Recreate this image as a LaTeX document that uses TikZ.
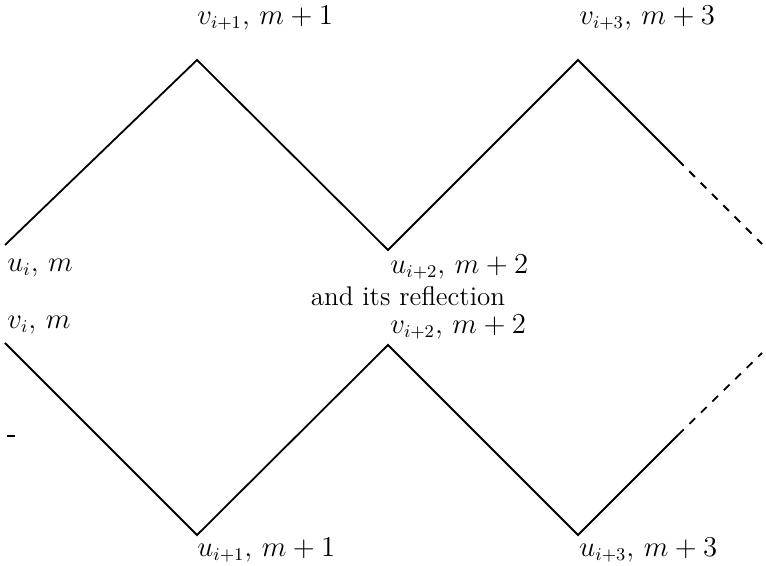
\documentclass[tikz,border=0pt]{standalone}
\begin{document}
\begin{tikzpicture}[x=0.5pt,y=-0.5pt,
  zig/.style={line width=0.9pt, line join=miter},
  dsh/.style={line width=0.9pt, dash pattern=on 4pt off 4pt},
  lbl/.style={anchor=west, inner sep=0pt, font=\fontsize{13.3}{16}\selectfont},
  txt/.style={inner sep=0pt, font=\fontsize{13.5}{16}\selectfont}]
\useasboundingbox (0,0) rectangle (766,566);
% top zigzag
\coordinate (a0) at (5,245);
\coordinate (a1) at (197,60);
\coordinate (a2) at (388,250);
\coordinate (a3) at (578,60);
\coordinate (a4) at (678,160);
\coordinate (a5) at (762,244);
% bottom zigzag
\coordinate (b0) at (5,343);
\coordinate (b1) at (197,535);
\coordinate (b2) at (388,345);
\coordinate (b3) at (578,535);
\coordinate (b4) at (678,435);
\coordinate (b5) at (762,353);
\draw[zig] (a0) -- (a1) -- (a2) -- (a3) -- (a4);
\draw[dsh] (a4) -- (a5);
\draw[zig] (b0) -- (b1) -- (b2) -- (b3) -- (b4);
\draw[dsh] (b4) -- (b5);
% labels
\node[lbl] (l1) at (197,18) {$v_{i+1},\, m+1$};
\node[lbl] (l2) at (579,18) {$v_{i+3},\, m+3$};
\node[lbl] (l3) at (7,268) {$u_i,\, m$};
\node[lbl] (l4) at (390,267) {$u_{i+2},\, m+2$};
\node[txt] (l5) at (408,296) {and its reflection};
\node[lbl] (l6) at (7,325) {$v_i,\, m$};
\node[lbl] (l7) at (390,327) {$v_{i+2},\, m+2$};
\node[lbl] (l8) at (197,550) {$u_{i+1},\, m+1$};
\node[lbl] (l9) at (579,550) {$u_{i+3},\, m+3$};
\draw[line width=0.9pt] (7,436) -- (15,436);
\end{tikzpicture}
\end{document}
